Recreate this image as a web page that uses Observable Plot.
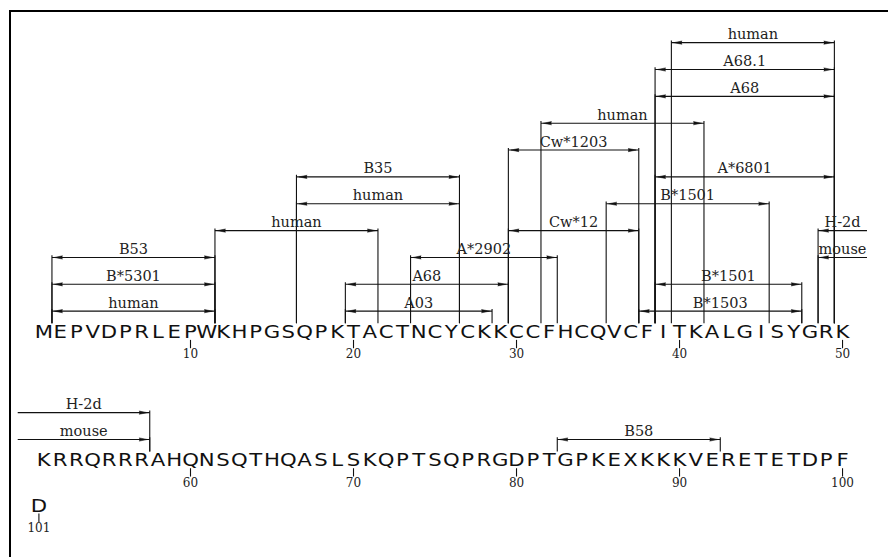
<!DOCTYPE html>
<html><head><meta charset="utf-8">
<script src="https://cdn.jsdelivr.net/npm/d3@7"></script>
<script src="https://cdn.jsdelivr.net/npm/@observablehq/plot@0.6"></script>
<style>
body{margin:0;background:#fff;}
#wrap{position:relative;width:888px;height:557px;overflow:hidden;background:#fff;}
#chart{position:absolute;left:0;top:0;}
#frame{position:absolute;left:9px;top:10px;width:900px;height:600px;border-left:2px solid #000;border-top:2px solid #000;box-sizing:border-box;pointer-events:none;}
</style></head><body>
<div id="wrap"><div id="chart"></div><div id="frame"></div></div>
<script>
// ---- data ----
const sequence = "MEPVDPRLEPWKHPGSQPKTACTNCYCKKCCFHCQVCFITKALGISYGRKKRRQRRRAHQNSQTHQASLSKQPTSQPRGDPTGPKEXKKKVERETETDPFD";
const tickPositions = [10, 20, 30, 40, 50, 60, 70, 80, 90, 100, 101];
const epitopeLabels = ["B53", "B*5301", "human", "human", "B35", "human", "A03", "A68", "A*2902", "Cw*12", "Cw*1203", "human", "B*1501", "A*6801", "A68", "A68.1", "human", "B*1501", "B*1503", "H-2d", "mouse", "B58"];
const epitopeStarts = [2, 2, 2, 12, 17, 17, 20, 20, 24, 30, 30, 32, 36, 39, 39, 39, 40, 39, 38, 49, 49, 83];
const epitopeEnds   = [11, 11, 11, 21, 26, 26, 28, 29, 32, 37, 37, 41, 45, 49, 49, 49, 49, 47, 47, 57, 57, 92];
const epitopeLevels = [3, 2, 1, 4, 6, 5, 1, 2, 3, 4, 7, 8, 5, 6, 9, 10, 11, 2, 1, 4, 3, 1];
const epitopeWrapLevels = [null, null, null, null, null, null, null, null, null, null, null, null, null, null, null, null, null, null, null, 2, 1, null];

// ---- layout constants ----
const perRow = 50;
const rowBase = [0, -4.78, -6.47];
const rowShift = [0, 0, -0.3];

// ---- derived tables ----
const residues = Array.from(sequence, (ch, i) => {
  const row = Math.floor(i / perRow);
  return {ch, pos: i + 1, row, col: (i % perRow) + 1 + rowShift[row], base: rowBase[row]};
});
const ticks = tickPositions.map(p => residues[p - 1]);

const segs = [];
epitopeLabels.forEach((label, i) => {
  const s = epitopeStarts[i], e = epitopeEnds[i];
  const rs = Math.floor((s - 1) / perRow), re = Math.floor((e - 1) / perRow);
  const cs = (s - 1) % perRow + 1, ce = (e - 1) % perRow + 1;
  if (rs === re) {
    segs.push({label, row: rs, level: epitopeLevels[i], x1: cs - 0.5, x2: ce + 0.5, left: true, right: true});
  } else {
    segs.push({label, row: rs, level: epitopeLevels[i], x1: cs - 0.5, x2: perRow + 1.5, left: true, right: false});
    segs.push({label, row: re, level: epitopeWrapLevels[i], x1: -0.6, x2: ce + 0.5, left: false, right: true});
  }
});
segs.forEach(d => { d.base = rowBase[d.row]; d.y = d.base + d.level; });

const verticals = [];
const heads = [];
segs.forEach(d => {
  if (d.left) { verticals.push({x: d.x1, y1: d.y + 0.08, y2: d.base + 0.55}); heads.push({x: d.x1 + 0.64, y: d.y, rot: -90}); }
  if (d.right) { verticals.push({x: d.x2, y1: d.y + 0.08, y2: d.base + 0.55}); heads.push({x: d.x2 - 0.64, y: d.y, rot: 90}); }
});

const ink = "#111";
const chart = Plot.plot({
  width: 888,
  height: 557,
  margin: 0,
  style: {background: "transparent"},
  x: {domain: [-1.656, 52.82], range: [0, 888], axis: null},
  y: {domain: [-8.175, 12.57], range: [557, 0], axis: null},
  marks: [
    Plot.link(segs, {x1: "x1", x2: "x2", y1: "y", y2: "y", stroke: ink, strokeWidth: 1.1}),
    Plot.link(verticals, {x1: "x", x2: "x", y1: "y1", y2: "y2", stroke: ink, strokeWidth: 1.1}),
    Plot.vector(heads, {x: "x", y: "y", rotate: "rot", length: 8, shape: "spike", anchor: "start", r: 1.6, fill: ink, stroke: ink, strokeWidth: 0.5}),
    Plot.text(segs, {x: d => (d.x1 + d.x2) / 2, y: "y", text: "label", lineAnchor: "bottom", dy: -3.5,
      fontFamily: "DejaVu Serif", fontSize: 14.5, fill: "#222", style: "letter-spacing:0.8px"}),
    Plot.text(residues, {x: "col", y: "base", text: "ch", lineAnchor: "bottom", fontFamily: "DejaVu Sans", fontSize: 18, fill: ink}),
    Plot.link(ticks, {x1: "col", x2: "col", y1: d => d.base - 0.07, y2: d => d.base - 0.38, stroke: ink, strokeWidth: 1.1}),
    Plot.text(ticks, {x: "col", y: d => d.base - 0.76, text: "pos", lineAnchor: "bottom", fontFamily: "DejaVu Serif", fontSize: 12, fill: "#222"})
  ]
});
// widen the sequence glyphs horizontally, each around its own centre
const textGroups = chart.querySelectorAll('g[aria-label="text"]');
if (textGroups.length >= 2) {
  textGroups[1].querySelectorAll("text").forEach(t => {
    const x = t.getAttribute("x");
    if (x != null) {
      const y = t.getAttribute("y") || 0;
      t.setAttribute("transform", `translate(${x},${y}) scale(1.18,1) translate(${-x},${-y})`);
    } else {
      const tr = t.getAttribute("transform") || "";
      t.setAttribute("transform", tr + " scale(1.18,1)");
    }
  });
}
document.getElementById("chart").appendChild(chart);
</script>
</body></html>
